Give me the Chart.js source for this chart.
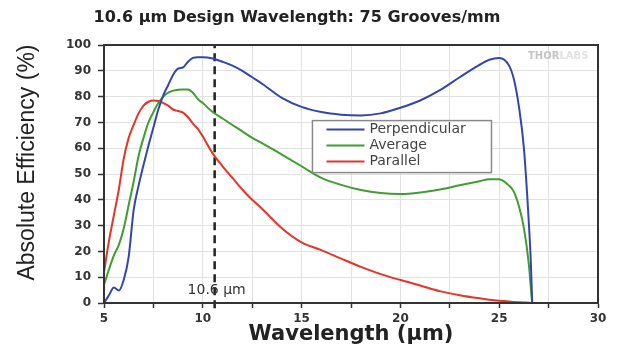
<!DOCTYPE html>
<html><head><meta charset="utf-8">
<script src="https://cdn.jsdelivr.net/npm/chart.js@4/dist/chart.umd.min.js"></script>
<style>html,body{margin:0;padding:0;background:#fff}#wrap{width:620px;height:350px}</style>
</head><body><div id="wrap"><canvas id="c" width="620" height="350"></canvas></div>
<script>
const TITLE = '10.6 µm Design Wavelength: 75 Grooves/mm';
const X_TITLE = 'Wavelength (µm)';
const Y_TITLE = 'Absolute Efficiency (%)';
const SERIES_NAMES = ['Perpendicular', 'Average', 'Parallel'];
const SERIES_COLORS = ['#3346b0', '#3f9e2e', '#e8322a'];
const WATERMARK = ['THOR', 'LABS'];

const wavelength = [5.0, 5.25, 5.5, 5.75, 6.0, 6.25, 6.5, 6.75, 7.0, 7.25, 7.5, 7.75, 8.0, 8.25, 8.5, 8.75, 9.0, 9.25, 9.5, 9.75, 10.0, 10.5, 11, 11.5, 12, 12.5, 13, 14, 15, 16, 17, 18, 19, 20, 21, 22, 23, 24, 24.5, 25, 25.5, 25.75, 26, 26.25, 26.5, 26.6, 26.67];
const perpendicular = [0, 3, 6, 4.8, 9, 18, 36, 45.5, 53.5, 61, 68, 75, 80.5, 84.5, 88.5, 90.8, 91.3, 93.5, 95, 95.3, 95.3, 94.8, 93.5, 92, 90, 87.5, 85, 79.5, 76, 74, 73, 72.7, 73.5, 75.7, 78.5, 82.5, 87.5, 92.3, 94.3, 95, 92, 86.5, 76, 60, 31, 16, 0];
const average = [7, 13, 18.5, 22.5, 29, 38, 47, 57, 64, 70, 74, 77.5, 80, 81.5, 82.3, 82.7, 82.8, 82.8, 81.5, 79, 77.5, 74, 71.5, 69, 66.5, 64, 62, 57.5, 53, 48.5, 45.8, 43.8, 42.6, 42.2, 42.8, 44, 45.6, 47.2, 48, 48, 45.5, 43, 37.5, 29, 15, 6, 0];
const parallel = [12, 24, 34, 44, 56, 64, 69, 73.5, 76.5, 78, 78.5, 78.3, 77.5, 76.5, 75, 74.4, 73.8, 72, 69.5, 67.5, 64.5, 58, 53, 48.5, 44, 40, 36.5, 29, 23.5, 20.5, 17.2, 14, 11.2, 8.9, 6.8, 4.6, 3.0, 1.8, 1.3, 0.9, 0.6, 0.4, 0.3, 0.2, 0.1, 0.03, 0];

const designWavelength = 10.6;
const designLabel = '10.6 µm';
const xTickLabels = [5, 10, 15, 20, 25, 30];
const xGridValues = [5, 7.5, 10, 12.5, 15, 17.5, 20, 22.5, 25, 27.5, 30];
const yTickLabels = [0, 10, 20, 30, 40, 50, 60, 70, 80, 90, 100];

const seriesValues = [perpendicular, average, parallel];
const toPoints = arr => wavelength.map((w, i) => ({x: w, y: arr[i]}));

const datasets = seriesValues.map((vals, i) => ({
  label: SERIES_NAMES[i],
  data: toPoints(vals),
  borderColor: SERIES_COLORS[i],
  backgroundColor: SERIES_COLORS[i],
  borderWidth: 2,
  pointRadius: 0,
  cubicInterpolationMode: 'monotone',
  fill: false
}));
datasets.push({
  label: 'design',
  data: [{x: designWavelength, y: -2}, {x: designWavelength, y: 100}],
  borderColor: '#222',
  borderWidth: 2.5,
  borderDash: [8, 5],
  pointRadius: 0,
  clip: false
});

const TEXT = '#333';
const FONT = "'DejaVu Sans', sans-serif";

const decor = {
  id: 'decor',
  beforeDraw(chart) {
    const c = chart.ctx;
    c.save(); c.fillStyle = '#fff'; c.fillRect(0, 0, chart.width, chart.height); c.restore();
  },
  beforeDatasetsDraw(chart) {
    const c = chart.ctx, a = chart.chartArea;
    c.save();
    c.font = "bold 10px " + FONT;
    c.textBaseline = 'middle';
    c.textAlign = 'left';
    const w1 = c.measureText(WATERMARK[0]).width;
    const x0 = a.right - 70;
    c.fillStyle = '#c4c4c4';
    c.fillText(WATERMARK[0], x0, a.top + 11);
    c.fillStyle = '#e2e2e2';
    c.fillText(WATERMARK[1], x0 + w1, a.top + 11);
    c.restore();
  },
  afterDraw(chart) {
    const c = chart.ctx, a = chart.chartArea;
    c.save();
    c.strokeStyle = '#333'; c.lineWidth = 2;
    c.strokeRect(a.left, a.top, a.right - a.left, a.bottom - a.top);
    c.fillStyle = '#222';
    c.font = "bold 16px " + FONT;
    c.textAlign = 'center'; c.textBaseline = 'middle';
    c.fillText(TITLE, 297, 18);
    const xs = chart.scales.x, ys = chart.scales.y;
    c.fillStyle = TEXT;
    c.font = "14px " + FONT;
    c.fillText(designLabel, xs.getPixelForValue(designWavelength) + 2, ys.getPixelForValue(5));
    const lx = xs.getPixelForValue(15.55), ly = ys.getPixelForValue(70.7);
    const lw = 179, lh = 52;
    c.fillStyle = '#fff';
    c.fillRect(lx, ly, lw, lh);
    c.strokeStyle = '#8a8a8a'; c.lineWidth = 1.5;
    c.strokeRect(lx, ly, lw, lh);
    c.textAlign = 'left';
    c.font = "14px " + FONT;
    SERIES_NAMES.forEach((n, i) => {
      const yy = ly + 9 + i * 16;
      c.strokeStyle = SERIES_COLORS[i]; c.lineWidth = 2;
      c.beginPath(); c.moveTo(lx + 14, yy); c.lineTo(lx + 52, yy); c.stroke();
      c.fillStyle = '#444';
      c.fillText(n, lx + 57, yy);
    });
    c.restore();
  }
};

new Chart(document.getElementById('c'), {
  type: 'line',
  data: {datasets},
  plugins: [decor],
  options: {
    responsive: false,
    animation: false,
    devicePixelRatio: 1,
    layout: {padding: {top: 45, right: 22, left: 0, bottom: 0}},
    plugins: {legend: {display: false}, tooltip: {enabled: false}, title: {display: false}},
    scales: {
      x: {
        type: 'linear', min: 5, max: 30,
        afterFit: s => { s.height = 47; },
        afterBuildTicks: s => { s.ticks = xGridValues.map(v => ({value: v})); },
        ticks: {
          autoSkip: false, maxRotation: 0, padding: 4, color: TEXT,
          font: {family: FONT, weight: 'bold', size: 12},
          callback: v => xTickLabels.includes(v) ? String(v) : ''
        },
        grid: {color: '#e2e2e2', lineWidth: 1, tickColor: '#333', tickLength: 5, tickWidth: 1.5},
        border: {display: true, color: '#333', width: 2},
        title: {display: true, text: X_TITLE, color: '#222', padding: {bottom: 3, top: 0},
          font: {family: FONT, weight: 'bold', size: 21}}
      },
      y: {
        min: 0, max: 100,
        afterFit: s => { s.width = 104; },
        afterBuildTicks: s => { s.ticks = yTickLabels.map(v => ({value: v})); },
        ticks: {
          autoSkip: false, padding: 7, color: TEXT,
          font: {family: FONT, weight: 'bold', size: 12},
          callback: v => String(v)
        },
        grid: {color: '#e2e2e2', lineWidth: 1, tickColor: '#333', tickLength: 6, tickWidth: 1.5},
        border: {display: true, color: '#333', width: 2},
        title: {display: true, text: '\u2002\u2002' + Y_TITLE, color: '#222', padding: {top: 14},
          font: {family: "'Liberation Sans', Arial, sans-serif", size: 23}}
      }
    }
  }
});
</script></body></html>
